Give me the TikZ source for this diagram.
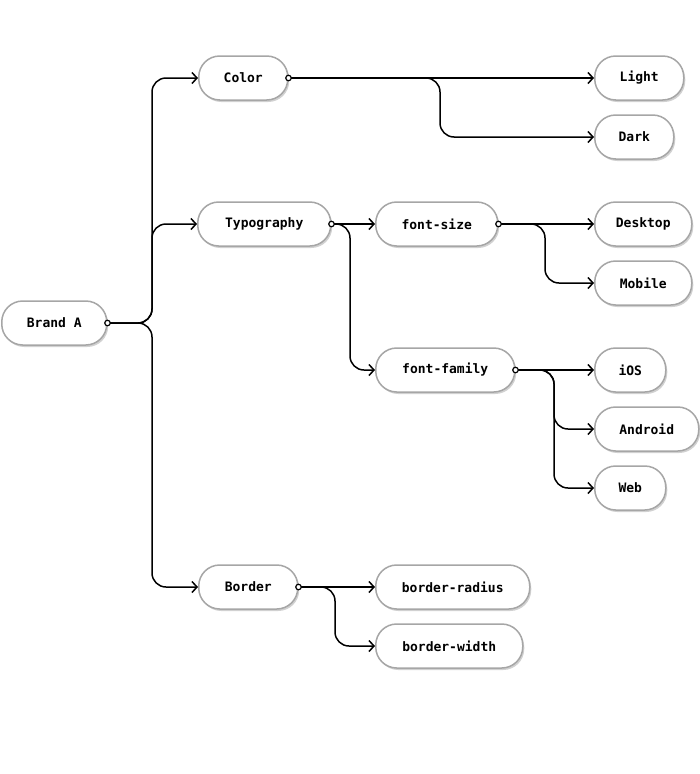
\documentclass[tikz,border=0pt]{standalone}
\usepackage{fontspec}
\setmonofont{DejaVu Sans Mono}
\usetikzlibrary{arrows.meta,shadows}
\begin{document}
\begin{tikzpicture}[x=1pt,y=-1pt,
  pill/.style={draw=black!35,line width=1.5pt,fill=white,rounded corners=21pt,minimum height=44pt,anchor=west,inner sep=0pt,
    font=\ttfamily\bfseries\fontsize{13}{15}\selectfont,drop shadow={shadow xshift=1.5pt,shadow yshift=-2pt,opacity=0.3,fill=black!60}},
  conn/.style={line width=1.5pt,rounded corners=14pt,-{Straight Barb[length=5pt,width=11pt,line width=1.5pt]}},
  dotc/.style={draw,line width=1.2pt,fill=white,circle,inner sep=0pt,minimum size=5.5pt}]
\useasboundingbox (0,0) rectangle (700,774);
\node[pill,minimum width=105] (brand) at (1,323) {Brand A};
\node[pill,minimum width=89] (color) at (198,78) {Color};
\node[pill,minimum width=133] (typo) at (197,224) {Typography};
\node[pill,minimum width=99] (border) at (198,587) {Border};
\node[pill,minimum width=122] (fs) at (375,224) {font-size};
\node[pill,minimum width=139] (ff) at (375,370) {font-family};
\node[pill,minimum width=89] (light) at (594,78) {Light};
\node[pill,minimum width=79] (dark) at (594,137) {Dark};
\node[pill,minimum width=97] (desk) at (594,224) {Desktop};
\node[pill,minimum width=97] (mob) at (594,283) {Mobile};
\node[pill,minimum width=71] (ios) at (594,370) {iOS};
\node[pill,minimum width=104] (andr) at (594,429) {Android};
\node[pill,minimum width=71] (web) at (594,488) {Web};
\node[pill,minimum width=154] (br) at (375,587) {border-radius};
\node[pill,minimum width=147] (bw) at (375,646) {border-width};
% straight connectors (same level)
\foreach \p/\c in {color/light,typo/fs,fs/desk,ff/ios,border/br}{
  \draw[conn] (\p.east) -- (\c.west);
}
% bent connectors
\foreach \p/\t/\c in {brand/152/color,brand/152/typo,brand/152/border,color/440/dark,typo/350/ff,fs/545/mob,ff/554/andr,ff/554/web,border/335/bw}{
  \draw[conn] (\p.east) -- (\t,0 |- \p.east) -- (\t,0 |- \c.west) -- (\c.west);
}
\foreach \p in {brand,color,typo,fs,ff,border}{
  \node[dotc] at (\p.east) {};
}
\end{tikzpicture}
\end{document}
